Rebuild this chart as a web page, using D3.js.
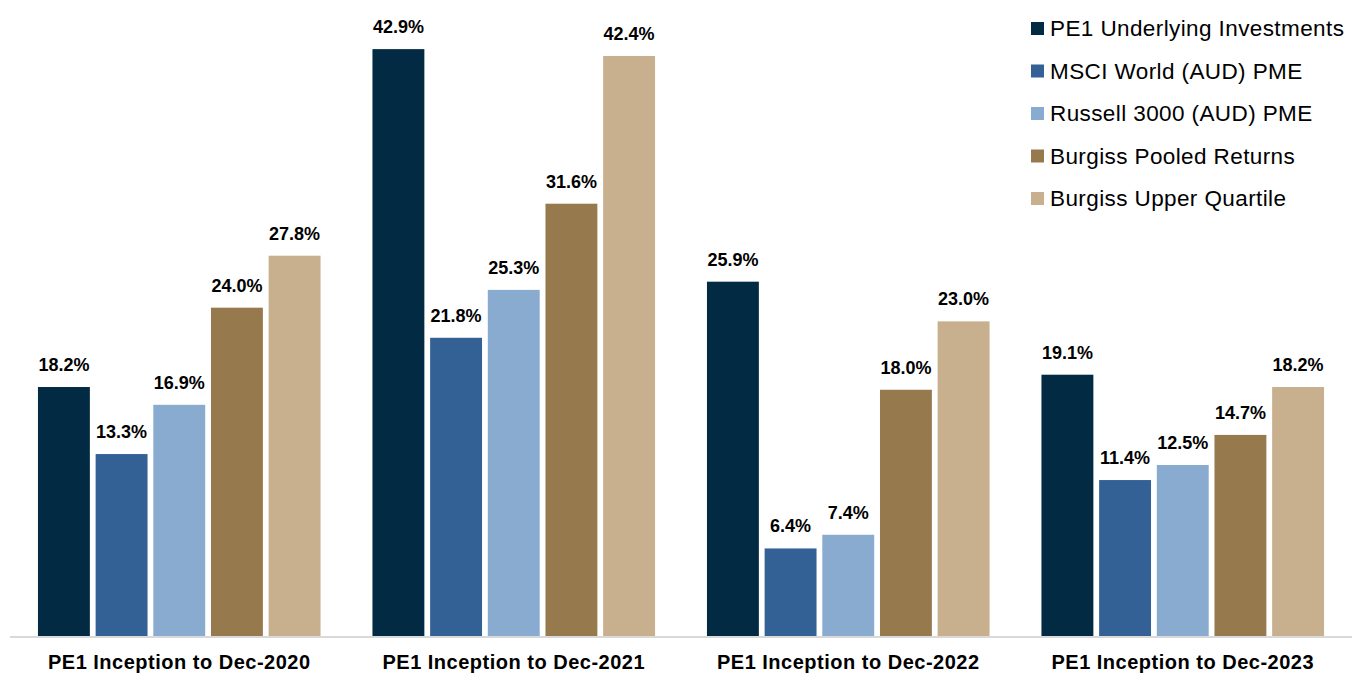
<!DOCTYPE html>
<html>
<head>
<meta charset="utf-8">
<script src="https://cdn.jsdelivr.net/npm/d3@7"></script>
<style>
  body { margin: 0; background: #fff; }
  svg { display: block; font-family: "Liberation Sans", Arial, sans-serif; }
  .value-label { font-weight: bold; font-size: 18px; fill: #000; text-anchor: middle; }
  .category-label { font-weight: bold; font-size: 20px; letter-spacing: 0.5px; fill: #000; text-anchor: middle; }
  .legend-label { font-size: 22.5px; letter-spacing: 0.4px; fill: #000; }
</style>
</head>
<body>
<div id="wrapper"></div>
<script>
const categories = [
  "PE1 Inception to Dec-2020",
  "PE1 Inception to Dec-2021",
  "PE1 Inception to Dec-2022",
  "PE1 Inception to Dec-2023"
]
const seriesNames = [
  "PE1 Underlying Investments",
  "MSCI World (AUD) PME",
  "Russell 3000 (AUD) PME",
  "Burgiss Pooled Returns",
  "Burgiss Upper Quartile"
]
const seriesColors = ["#022A42", "#336195", "#8AABD0", "#967A4E", "#C8B08E"]
const pe1Values = [18.2, 42.9, 25.9, 19.1]
const msciValues = [13.3, 21.8, 6.4, 11.4]
const russellValues = [16.9, 25.3, 7.4, 12.5]
const pooledValues = [24.0, 31.6, 18.0, 14.7]
const upperQuartileValues = [27.8, 42.4, 23.0, 18.2]

function drawChart() {
  const seriesValues = [pe1Values, msciValues, russellValues, pooledValues, upperQuartileValues]
  const dataset = categories.map((c, i) => ({
    category: c,
    values: seriesNames.map((s, j) => ({ series: s, index: j, value: seriesValues[j][i] }))
  }))

  const dimensions = {
    width: 1354,
    height: 673,
    margin: { top: 20, right: 4, bottom: 37, left: 12 },
  }
  dimensions.boundedWidth = dimensions.width - dimensions.margin.left - dimensions.margin.right
  dimensions.boundedHeight = dimensions.height - dimensions.margin.top - dimensions.margin.bottom

  const wrapper = d3.select("#wrapper")
    .append("svg")
      .attr("width", dimensions.width)
      .attr("height", dimensions.height)

  const bounds = wrapper.append("g")
    .attr("transform", `translate(${dimensions.margin.left},${dimensions.margin.top})`)

  const xScale = d3.scaleBand()
    .domain(categories)
    .range([0, dimensions.boundedWidth])
    .padding(0)

  const xSeries = d3.scaleBand()
    .domain(d3.range(seriesNames.length))
    .range([0, xScale.bandwidth()])
    .paddingInner(0.1)
    .paddingOuter(0.45)

  const yScale = d3.scaleLinear()
    .domain([0, 45])
    .range([dimensions.boundedHeight, dimensions.boundedHeight - 45 * 13.68])

  const groups = bounds.selectAll(".group")
    .data(dataset)
    .enter().append("g")
      .attr("class", "group")
      .attr("transform", d => `translate(${xScale(d.category)},0)`)

  groups.selectAll("rect")
    .data(d => d.values)
    .enter().append("rect")
      .attr("x", d => xSeries(d.index))
      .attr("width", xSeries.bandwidth())
      .attr("y", d => yScale(d.value))
      .attr("height", d => yScale(0) - yScale(d.value))
      .attr("fill", d => seriesColors[d.index])

  groups.selectAll(".value-label")
    .data(d => d.values)
    .enter().append("text")
      .attr("class", "value-label")
      .attr("x", d => xSeries(d.index) + xSeries.bandwidth() / 2)
      .attr("y", d => yScale(d.value) - 16)
      .text(d => `${d3.format(".1f")(d.value)}%`)

  // baseline
  bounds.append("line")
    .attr("x1", -2)
    .attr("x2", dimensions.boundedWidth + 2)
    .attr("y1", yScale(0) + 1)
    .attr("y2", yScale(0) + 1)
    .attr("stroke", "#d9d9d9")
    .attr("stroke-width", 2)

  bounds.selectAll(".category-label")
    .data(categories)
    .enter().append("text")
      .attr("class", "category-label")
      .attr("x", d => xScale(d) + xScale.bandwidth() / 2)
      .attr("y", dimensions.boundedHeight + 32.5)
      .text(d => d)

  // legend
  const legendRow = d3.scaleLinear()
    .domain([0, 1])
    .range([36, 78.5])

  const legendGroup = wrapper.append("g")
    .attr("transform", "translate(1031,0)")

  const legendItems = legendGroup.selectAll(".legend-item")
    .data(seriesNames)
    .enter().append("g")
      .attr("class", "legend-item")
      .attr("transform", (d, i) => `translate(0,${legendRow(i)})`)

  legendItems.append("rect")
    .attr("x", 0)
    .attr("y", -14)
    .attr("width", 13)
    .attr("height", 13)
    .attr("fill", (d, i) => seriesColors[i])

  legendItems.append("text")
    .attr("class", "legend-label")
    .attr("x", 19)
    .attr("y", 0)
    .text(d => d)
}
drawChart()
</script>
</body>
</html>
